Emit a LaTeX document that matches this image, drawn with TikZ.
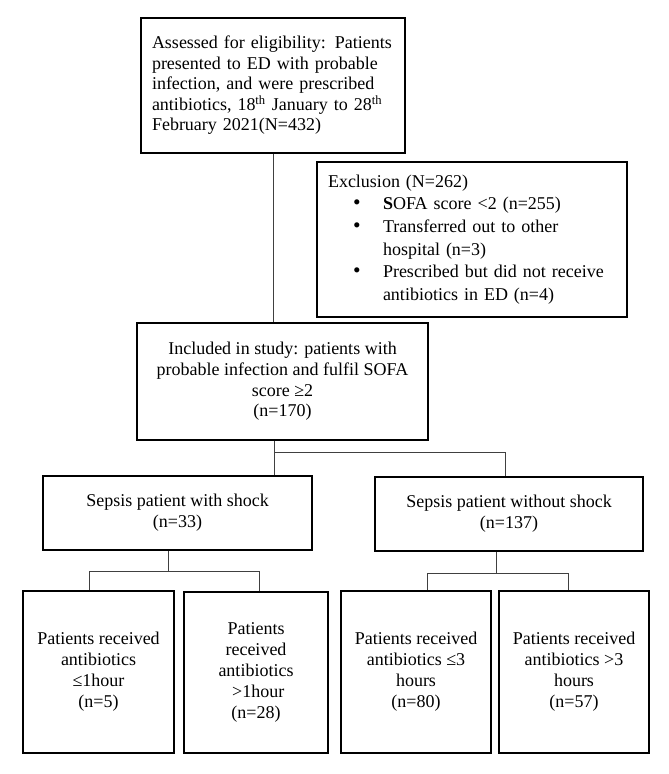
\documentclass[tikz,border=0pt]{standalone}
\usepackage{fontspec}
\setmainfont{Liberation Serif}
\newcommand{\bigbul}{\makebox[55pt][l]{\hspace*{25pt}\raisebox{0.5pt}{\scalebox{1.2}{\textbullet}}}}
\tikzset{
  box/.style={draw=black, line width=1.6pt, inner sep=0pt, align=center,
    font=\fontsize{18}{20.7}\selectfont},
  conn/.style={draw=black!75, line width=1pt}
}
\begin{document}
\begin{tikzpicture}[x=1pt,y=-1pt]
\useasboundingbox (0,0) rectangle (669,774);
% boxes
\node[box, minimum width=264pt, minimum height=135pt, text width=242pt, align=left,
  font=\fontsize{18}{20.5}\selectfont] (assess) at (273,85.5)
  {Assessed for eligibility: Patients\\presented to ED with probable\\infection, and were prescribed\\antibiotics, 18\textsuperscript{th} January to 28\textsuperscript{th}\\February 2021(N=432)};
\node[box, minimum width=310pt, minimum height=155pt, text width=288pt, align=left,
  font=\fontsize{18}{22.6}\selectfont] (excl) at (472,239.5)
  {Exclusion (N=262)\\
   \bigbul\textbf{S}OFA score <2 (n=255)\\
   \bigbul Transferred out to other\\
   \hspace*{55pt}hospital (n=3)\\
   \bigbul Prescribed but did not receive\\
   \hspace*{55pt}antibiotics in ED (n=4)};
\node[box, minimum width=291pt, minimum height=117pt] (incl) at (282.5,381.5)
  {Included in study: patients with\\probable infection and fulfil SOFA\\score ≥2\\(n=170)};
\node[box, minimum width=269pt, minimum height=74pt] (shock) at (177.5,513)
  {Sepsis patient with shock\\(n=33)};
\node[box, minimum width=268pt, minimum height=74pt] (noshock) at (509,514)
  {Sepsis patient without shock\\(n=137)};
\node[box, minimum width=151pt, minimum height=162pt, font=\fontsize{18}{21}\selectfont] (a) at (98.5,672)
  {Patients received\\antibiotics\\≤1hour\\(n=5)};
\node[box, minimum width=144pt, minimum height=161pt, font=\fontsize{18}{21}\selectfont] (b) at (256,672.5)
  {Patients\\received\\antibiotics\\\ >1hour\\(n=28)};
\node[box, minimum width=150pt, minimum height=162pt, font=\fontsize{18}{21}\selectfont] (c) at (416,672)
  {Patients received\\antibiotics ≤3\\hours\\(n=80)};
\node[box, minimum width=150pt, minimum height=162pt, font=\fontsize{18}{21}\selectfont] (d) at (574,672)
  {Patients received\\antibiotics >3\\hours\\(n=57)};
% junctions
\coordinate (j1) at (274,452);
\coordinate (j1r) at (505,452);
\coordinate (j2) at (168,571);
\coordinate (j2l) at (89,571);
\coordinate (j2r) at (259,571);
\coordinate (j3) at (496,573);
\coordinate (j3l) at (427,573);
\coordinate (j3r) at (568,573);
% connectors
\draw[conn] (assess.south) -- (assess.south |- incl.north);
\draw[conn] (j1 |- incl.south) -- (j1 |- shock.north);
\draw[conn] (j1) -- (j1r) -- (j1r |- noshock.north);
\draw[conn] (j2 |- shock.south) -- (j2);
\draw[conn] (j2l |- a.north) -- (j2l) -- (j2r) -- (j2r |- b.north);
\draw[conn] (j3 |- noshock.south) -- (j3);
\draw[conn] (j3l |- c.north) -- (j3l) -- (j3r) -- (j3r |- d.north);
\end{tikzpicture}
\end{document}
